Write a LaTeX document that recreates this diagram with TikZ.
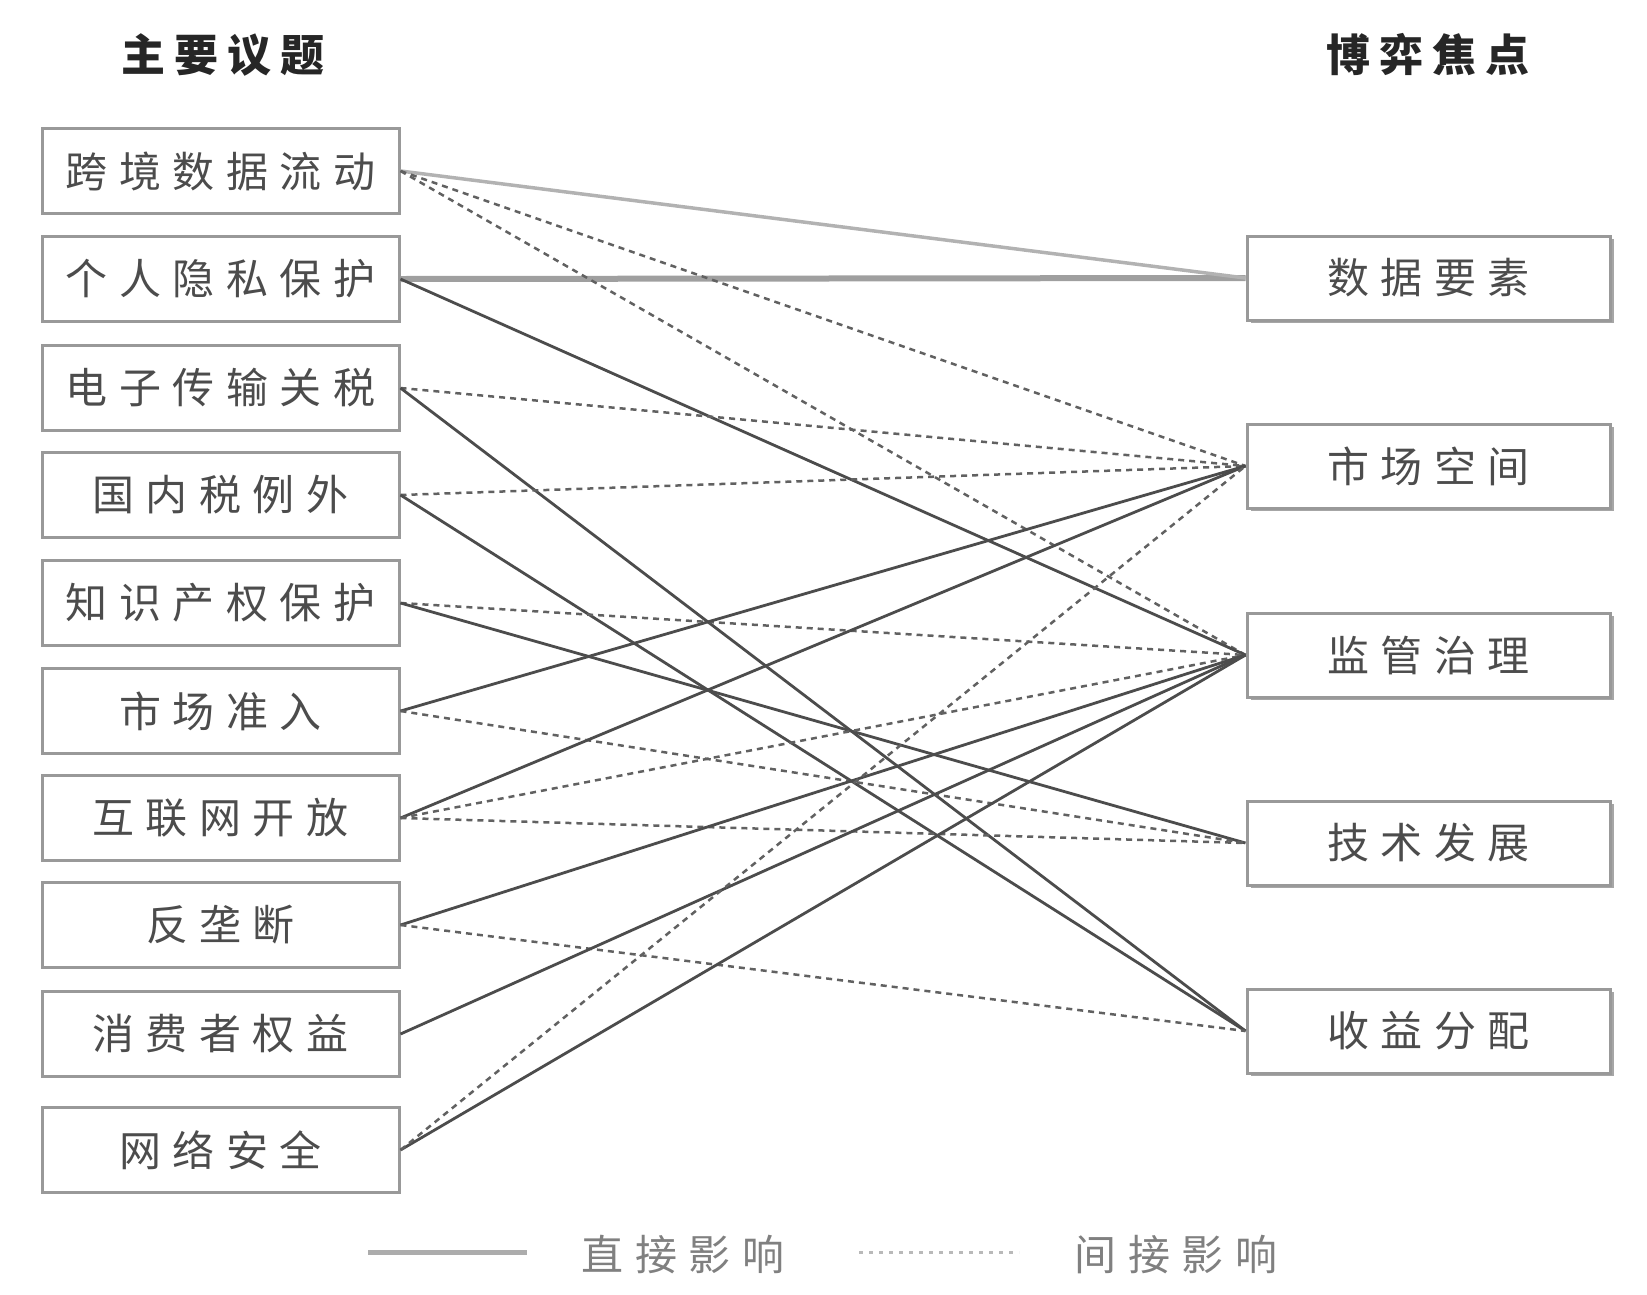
\documentclass[tikz,border=0pt]{standalone}
\usepackage{fontspec}
\usetikzlibrary{shadows}
\newfontfamily\cjk{Noto Sans CJK SC}
\definecolor{boxc}{gray}{0.6}
\definecolor{txtc}{gray}{0.3}
\definecolor{solidc}{gray}{0.3}
\definecolor{dashc}{gray}{0.38}
\definecolor{legc}{gray}{0.5}
\newdimen\lgap
\lgap=11.5pt
\def\spcd#1{\spcdA#1\relax}
\def\spcdA#1{\ifx#1\relax\else#1\expandafter\spcdB\fi}
\def\spcdB#1{\ifx#1\relax\else\kern\lgap#1\expandafter\spcdB\fi}
\tikzset{
  lbox/.style={draw=boxc, line width=3pt, fill=white, minimum width=357pt, minimum height=85pt, inner sep=0pt,
    font=\cjk\fontsize{42}{44}\selectfont, text=txtc},
  rbox/.style={lbox, minimum width=363pt, minimum height=84pt,
    drop shadow={shadow xshift=4pt, shadow yshift=-3pt, fill=gray!70, opacity=1}},
  head/.style={font=\cjk\bfseries\fontsize{44}{46}\selectfont, text=black!85, inner sep=0pt},
  legtxt/.style={font=\cjk\fontsize{42}{44}\selectfont, text=legc, inner sep=0pt},
  direct/.style={draw=solidc, line width=2.8pt},
  indirect/.style={draw=dashc, line width=2.5pt, dash pattern=on 6pt off 5pt},
}
\begin{document}
\begin{tikzpicture}[x=1pt, y=-1pt]
\useasboundingbox (0,0) rectangle (1647,1294);
\node[head] (h1) at (223,55) {\lgap=9pt\spcd{主要议题}};
\node[head] (h2) at (1428,55) {\lgap=9pt\spcd{博弈焦点}};

\node[lbox] (L1) at (220.5,171) {\spcd{跨境数据流动}};
\node[lbox] (L2) at (220.5,279) {\spcd{个人隐私保护}};
\node[lbox] (L3) at (220.5,388) {\spcd{电子传输关税}};
\node[lbox] (L4) at (220.5,495) {\spcd{国内税例外}};
\node[lbox] (L5) at (220.5,603) {\spcd{知识产权保护}};
\node[lbox] (L6) at (220.5,711) {\spcd{市场准入}};
\node[lbox] (L7) at (220.5,818) {\spcd{互联网开放}};
\node[lbox] (L8) at (220.5,925) {\spcd{反垄断}};
\node[lbox] (L9) at (220.5,1034) {\spcd{消费者权益}};
\node[lbox] (L10) at (220.5,1150) {\spcd{网络安全}};

\node[rbox] (R1) at (1428.5,278) {\spcd{数据要素}};
\node[rbox] (R2) at (1428.5,466) {\spcd{市场空间}};
\node[rbox] (R3) at (1428.5,655) {\spcd{监管治理}};
\node[rbox] (R4) at (1428.5,843) {\spcd{技术发展}};
\node[rbox] (R5) at (1428.5,1031) {\spcd{收益分配}};

% connections
\draw[draw=gray!75, line width=6pt] (L2.east) -- (R1.west);
\draw[draw=gray!60, line width=3.5pt] (L1.east) -- (R1.west);
\draw[indirect] (L1.east) -- (R2.west);
\draw[indirect] (L1.east) -- (R3.west);
\draw[direct] (L2.east) -- (R3.west);
\draw[indirect] (L3.east) -- (R2.west);
\draw[direct] (L3.east) -- (R5.west);
\draw[indirect] (L4.east) -- (R2.west);
\draw[direct] (L4.east) -- (R5.west);
\draw[indirect] (L5.east) -- (R3.west);
\draw[direct] (L5.east) -- (R4.west);
\draw[direct] (L6.east) -- (R2.west);
\draw[indirect] (L6.east) -- (R4.west);
\draw[direct] (L7.east) -- (R2.west);
\draw[indirect] (L7.east) -- (R3.west);
\draw[indirect] (L7.east) -- (R4.west);
\draw[direct] (L8.east) -- (R3.west);
\draw[indirect] (L8.east) -- (R5.west);
\draw[direct] (L9.east) -- (R3.west);
\draw[direct] (L10.east) -- (R3.west);
\draw[indirect] (L10.east) -- (R2.west);

% legend
\coordinate (s1) at (368,1252);
\coordinate (s2) at (527,1252);
\coordinate (d1) at (859,1252);
\coordinate (d2) at (1019,1252);
\draw[draw=gray!65, line width=5pt] (s1) -- (s2);
\draw[draw=gray!55, line width=3pt, dash pattern=on 4pt off 6pt] (d1) -- (d2);
\node[legtxt] (t1) at (683,1255) {\spcd{直接影响}};
\node[legtxt] (t2) at (1176,1255) {\spcd{间接影响}};
\end{tikzpicture}
\end{document}
